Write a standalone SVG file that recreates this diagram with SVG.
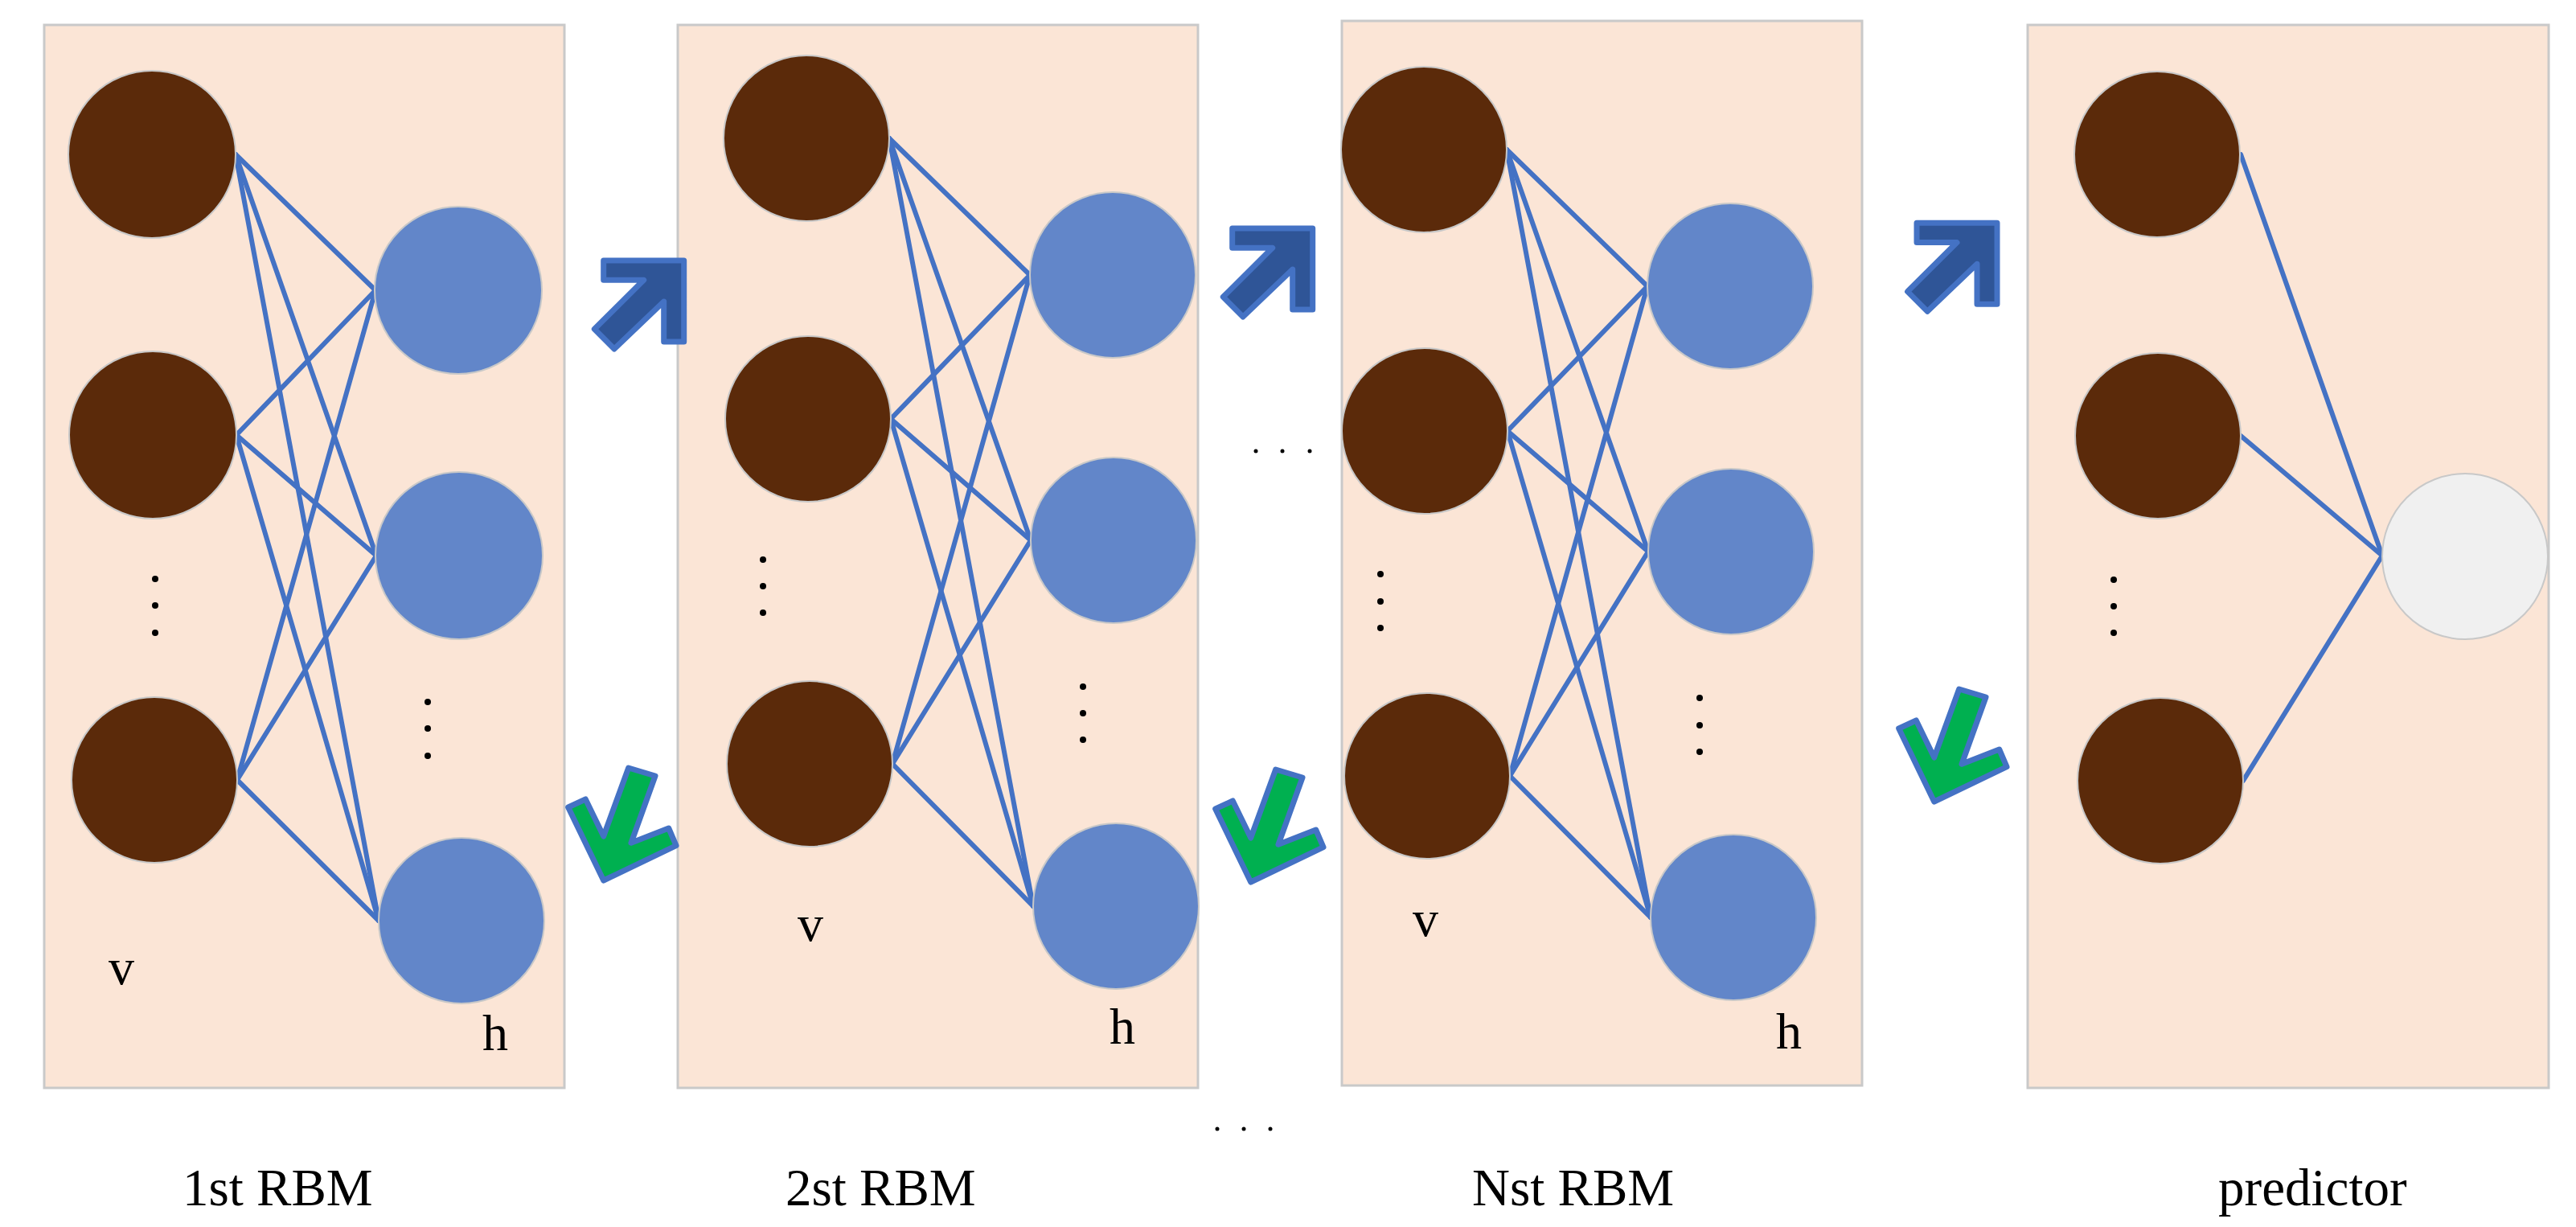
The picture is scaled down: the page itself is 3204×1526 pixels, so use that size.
<svg xmlns="http://www.w3.org/2000/svg" xmlns:xlink="http://www.w3.org/1999/xlink" width="3204" height="1526" viewBox="0 0 3204 1526">
<style>
.panel{fill:#FBE5D6;stroke:#C9C9C9;stroke-width:3}
.v{fill:#5B2A0A;stroke:#C8C8C8;stroke-width:2}
.h{fill:#6286C9;stroke:#C8C8C8;stroke-width:2}
.o{fill:#F0F0F0;stroke:#C8C8C8;stroke-width:2}
.ln{stroke:#4472C4;stroke-width:6;fill:none;stroke-linecap:round}
.dot{fill:#000}
.t{font-family:"Liberation Serif","Times New Roman",serif;font-size:64px;fill:#000}
.lbl{font-family:"Liberation Serif","Times New Roman",serif;font-size:65px;fill:#000}
.up{fill:#2F5597;stroke:#4472C4;stroke-width:7;stroke-linejoin:round}
.dn{fill:#00B050;stroke:#4472C4;stroke-width:7;stroke-linejoin:round}
</style>
<defs>
<path id="arrowUp" class="up" d="M750.7,324 L850.7,324 L850.7,425 L825.7,425 L825.7,375 L764,434 L739.3,409.3 L800.7,348.3 L750.7,348.3 Z"/>
<path id="arrowDown" class="dn" d="M781.7,955 L815,965 L785,1048.3 L831.7,1030 L841,1051.7 L750.7,1095 L706.7,1004 L728.3,994 L750.7,1040 Z"/>
</defs>
<rect width="3204" height="1526" fill="#fff"/>

<g id="panel1">
<rect class="panel" x="55" y="31" width="647" height="1322"/>
</g>
<g id="panel2">
<rect class="panel" x="843" y="31" width="647" height="1322"/>
</g>
<g id="panel3">
<rect class="panel" x="1669" y="26" width="647" height="1324"/>
</g>
<g id="panel4">
<rect class="panel" x="2522" y="31" width="648" height="1322"/>
</g>

<g id="connectors">
<!-- RBM 1 -->
<line class="ln" x1="293" y1="192" x2="467" y2="361"/>
<line class="ln" x1="293" y1="192" x2="468" y2="691"/>
<line class="ln" x1="293" y1="192" x2="471" y2="1145"/>
<line class="ln" x1="294" y1="541" x2="467" y2="361"/>
<line class="ln" x1="294" y1="541" x2="468" y2="691"/>
<line class="ln" x1="294" y1="541" x2="471" y2="1145"/>
<line class="ln" x1="295" y1="970" x2="467" y2="361"/>
<line class="ln" x1="295" y1="970" x2="468" y2="691"/>
<line class="ln" x1="295" y1="970" x2="471" y2="1145"/>
<!-- RBM 2 -->
<line class="ln" x1="1106" y1="172" x2="1281" y2="342"/>
<line class="ln" x1="1106" y1="172" x2="1282" y2="672"/>
<line class="ln" x1="1106" y1="172" x2="1285" y2="1127"/>
<line class="ln" x1="1108" y1="521" x2="1281" y2="342"/>
<line class="ln" x1="1108" y1="521" x2="1282" y2="672"/>
<line class="ln" x1="1108" y1="521" x2="1285" y2="1127"/>
<line class="ln" x1="1110" y1="950" x2="1281" y2="342"/>
<line class="ln" x1="1110" y1="950" x2="1282" y2="672"/>
<line class="ln" x1="1110" y1="950" x2="1285" y2="1127"/>
<!-- RBM N -->
<line class="ln" x1="1874" y1="186" x2="2049" y2="356"/>
<line class="ln" x1="1874" y1="186" x2="2050" y2="686"/>
<line class="ln" x1="1874" y1="186" x2="2053" y2="1141"/>
<line class="ln" x1="1875" y1="536" x2="2049" y2="356"/>
<line class="ln" x1="1875" y1="536" x2="2050" y2="686"/>
<line class="ln" x1="1875" y1="536" x2="2053" y2="1141"/>
<line class="ln" x1="1878" y1="965" x2="2049" y2="356"/>
<line class="ln" x1="1878" y1="965" x2="2050" y2="686"/>
<line class="ln" x1="1878" y1="965" x2="2053" y2="1141"/>
<!-- predictor -->
<line class="ln" x1="2787" y1="192" x2="2963" y2="691"/>
<line class="ln" x1="2787" y1="542" x2="2963" y2="691"/>
<line class="ln" x1="2790" y1="971" x2="2963" y2="691"/>
</g>

<g id="rbm1-v1"><circle class="v" cx="189" cy="192" r="104"/></g>
<g id="rbm1-v2"><circle class="v" cx="190" cy="541" r="104"/></g>
<g id="rbm1-v3"><circle class="v" cx="192" cy="970" r="103"/></g>
<g id="rbm1-h1"><circle class="h" cx="570" cy="361" r="104"/></g>
<g id="rbm1-h2"><circle class="h" cx="571" cy="691" r="104"/></g>
<g id="rbm1-h3"><circle class="h" cx="574" cy="1145" r="103"/></g>

<g id="rbm2-v1"><circle class="v" cx="1003" cy="172" r="103"/></g>
<g id="rbm2-v2"><circle class="v" cx="1005" cy="521" r="103"/></g>
<g id="rbm2-v3"><circle class="v" cx="1007" cy="950" r="103"/></g>
<g id="rbm2-h1"><circle class="h" cx="1384" cy="342" r="103"/></g>
<g id="rbm2-h2"><circle class="h" cx="1385" cy="672" r="103"/></g>
<g id="rbm2-h3"><circle class="h" cx="1388" cy="1127" r="103"/></g>

<g id="rbm3-v1"><circle class="v" cx="1771" cy="186" r="103"/></g>
<g id="rbm3-v2"><circle class="v" cx="1772" cy="536" r="103"/></g>
<g id="rbm3-v3"><circle class="v" cx="1775" cy="965" r="103"/></g>
<g id="rbm3-h1"><circle class="h" cx="2152" cy="356" r="103"/></g>
<g id="rbm3-h2"><circle class="h" cx="2153" cy="686" r="103"/></g>
<g id="rbm3-h3"><circle class="h" cx="2156" cy="1141" r="103"/></g>

<g id="pred-v1"><circle class="v" cx="2683" cy="192" r="103"/></g>
<g id="pred-v2"><circle class="v" cx="2684" cy="542" r="103"/></g>
<g id="pred-v3"><circle class="v" cx="2687" cy="971" r="103"/></g>
<g id="pred-out"><circle class="o" cx="3066" cy="692" r="103"/></g>

<g id="dots">
<circle class="dot" cx="193" cy="720" r="4"/><circle class="dot" cx="193" cy="753" r="4"/><circle class="dot" cx="193" cy="787" r="4"/>
<circle class="dot" cx="532" cy="873" r="4"/><circle class="dot" cx="532" cy="906" r="4"/><circle class="dot" cx="532" cy="940" r="4"/>
<circle class="dot" cx="949" cy="696" r="4"/><circle class="dot" cx="949" cy="729" r="4"/><circle class="dot" cx="949" cy="762" r="4"/>
<circle class="dot" cx="1347" cy="854" r="4"/><circle class="dot" cx="1347" cy="887" r="4"/><circle class="dot" cx="1347" cy="920" r="4"/>
<circle class="dot" cx="1717" cy="714" r="4"/><circle class="dot" cx="1717" cy="748" r="4"/><circle class="dot" cx="1717" cy="781" r="4"/>
<circle class="dot" cx="2114" cy="868" r="4"/><circle class="dot" cx="2114" cy="902" r="4"/><circle class="dot" cx="2114" cy="935" r="4"/>
<circle class="dot" cx="2629" cy="721" r="4"/><circle class="dot" cx="2629" cy="754" r="4"/><circle class="dot" cx="2629" cy="787" r="4"/>
<circle class="dot" cx="1562" cy="561" r="2.5"/><circle class="dot" cx="1595" cy="561" r="2.5"/><circle class="dot" cx="1629" cy="561" r="2.5"/>
<circle class="dot" cx="1514" cy="1404" r="2.5"/><circle class="dot" cx="1547" cy="1404" r="2.5"/><circle class="dot" cx="1580" cy="1404" r="2.5"/>
</g>

<g id="arrows">
<use xlink:href="#arrowUp"/>
<use xlink:href="#arrowUp" transform="translate(782,-40)"/>
<use xlink:href="#arrowUp" transform="translate(1633.3,-46.7)"/>
<use xlink:href="#arrowDown"/>
<use xlink:href="#arrowDown" transform="translate(805,2)"/>
<use xlink:href="#arrowDown" transform="translate(1655,-98)"/>
</g>

<g id="labels">
<text class="t" x="135" y="1224">v</text>
<text class="t" x="600" y="1306">h</text>
<text class="t" x="992" y="1170">v</text>
<text class="t" x="1380" y="1298">h</text>
<text class="t" x="1757" y="1164">v</text>
<text class="t" x="2209" y="1304">h</text>
<text class="lbl" x="227" y="1499">1st RBM</text>
<text class="lbl" x="977" y="1499">2st RBM</text>
<text class="lbl" x="1831" y="1499">Nst RBM</text>
<text class="lbl" x="2759" y="1499">predictor</text>
</g>
</svg>
